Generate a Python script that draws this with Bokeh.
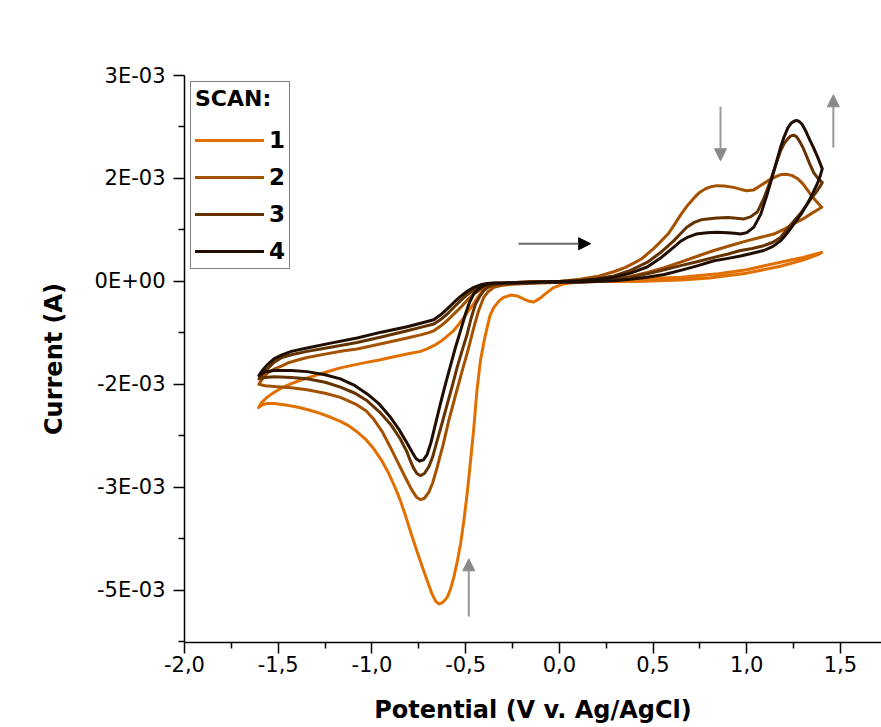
import numpy as np
from bokeh.plotting import figure
from bokeh.models import (Range1d, FixedTicker, CustomJSTickFormatter, Legend,
                          LegendItem, Arrow, NormalHead)
from bokeh.embed import file_html
from bokeh.resources import INLINE

# ---------------- data: (potential V, current mA) ----------------
scan_labels = ["1", "2", "3", "4"]
scan_colors = ["#E17000", "#A45200", "#653300", "#200E02"]

scan1 = [(0.00, 0.00), (0.30, 0.02), (0.65, 0.06), (0.85, 0.11), (1.00, 0.17), (1.18, 0.28),
         (1.30, 0.35), (1.40, 0.42),
         (1.38, 0.39), (1.30, 0.31), (1.18, 0.22), (1.00, 0.12), (0.80, 0.05), (0.65, 0.02),
         (0.40, 0.00), (0.22, 0.00), (0.10, -0.01), (0.02, -0.04), (-0.03, -0.09), (-0.065, -0.16),
         (-0.10, -0.24), (-0.136, -0.30), (-0.16, -0.29), (-0.189, -0.257), (-0.225, -0.212),
         (-0.26, -0.20), (-0.296, -0.232), (-0.32, -0.28), (-0.349, -0.378), (-0.37, -0.50),
         (-0.385, -0.669), (-0.40, -0.85), (-0.421, -1.155), (-0.44, -1.60), (-0.456, -2.126),
         (-0.475, -2.65), (-0.492, -3.096), (-0.51, -3.50), (-0.527, -3.824), (-0.545, -4.09),
         (-0.563, -4.31), (-0.58, -4.48), (-0.598, -4.60), (-0.615, -4.66), (-0.63, -4.69),
         (-0.643, -4.70), (-0.66, -4.66), (-0.68, -4.55), (-0.70, -4.40), (-0.73, -4.17),
         (-0.76, -3.93), (-0.79, -3.68), (-0.82, -3.42), (-0.85, -3.18), (-0.88, -2.98),
         (-0.91, -2.80), (-0.95, -2.60), (-0.99, -2.44), (-1.03, -2.31), (-1.08, -2.19),
         (-1.12, -2.11), (-1.168, -2.04), (-1.22, -1.98), (-1.28, -1.92), (-1.34, -1.87),
         (-1.40, -1.83), (-1.46, -1.80), (-1.52, -1.78), (-1.56, -1.78), (-1.585, -1.80),
         (-1.605, -1.84),
         (-1.59, -1.77), (-1.56, -1.69), (-1.523, -1.62), (-1.48, -1.55), (-1.434, -1.494),
         (-1.37, -1.43), (-1.30, -1.37), (-1.23, -1.31), (-1.168, -1.26), (-1.10, -1.22),
         (-1.03, -1.18), (-0.96, -1.145), (-0.901, -1.11), (-0.80, -1.05), (-0.74, -1.02),
         (-0.703, -0.98), (-0.665, -0.93), (-0.63, -0.87), (-0.60, -0.80), (-0.565, -0.72),
         (-0.535, -0.62), (-0.51, -0.53), (-0.485, -0.43), (-0.458, -0.33), (-0.44, -0.25),
         (-0.42, -0.18), (-0.40, -0.12), (-0.383, -0.09), (-0.35, -0.05), (-0.314, -0.03),
         (-0.20, -0.01), (-0.10, -0.005), (0.00, 0.00)]

scan2 = [(-0.30, -0.04), (-0.15, -0.01), (0.00, 0.00), (0.11, 0.03), (0.20, 0.07), (0.29, 0.14),
         (0.35, 0.20), (0.40, 0.27), (0.44, 0.33), (0.47, 0.40), (0.50, 0.47), (0.53, 0.55),
         (0.58, 0.69), (0.615, 0.83), (0.65, 0.98), (0.685, 1.11), (0.72, 1.22), (0.75, 1.30),
         (0.78, 1.35), (0.81, 1.38), (0.84, 1.395), (0.88, 1.39), (0.93, 1.37), (0.97, 1.34),
         (1.00, 1.32), (1.035, 1.33), (1.07, 1.39), (1.11, 1.46), (1.15, 1.52), (1.18, 1.555),
         (1.21, 1.56), (1.24, 1.545), (1.27, 1.50), (1.30, 1.42), (1.34, 1.27), (1.37, 1.17),
         (1.40, 1.08),
         (1.37, 1.03), (1.34, 0.98), (1.30, 0.91), (1.25, 0.84), (1.20, 0.76), (1.145, 0.69),
         (1.07, 0.64), (1.00, 0.59), (0.91, 0.52), (0.825, 0.45), (0.74, 0.37), (0.647, 0.28),
         (0.56, 0.20), (0.47, 0.13), (0.38, 0.07), (0.29, 0.035), (0.20, 0.01), (0.11, -0.01),
         (-0.10, -0.02), (-0.25, -0.04), (-0.30, -0.055), (-0.349, -0.087), (-0.38, -0.15),
         (-0.403, -0.232), (-0.43, -0.42), (-0.456, -0.669), (-0.485, -0.98), (-0.518, -1.30),
         (-0.555, -1.67), (-0.590, -2.03), (-0.62, -2.38), (-0.652, -2.71), (-0.675, -2.93),
         (-0.696, -3.07), (-0.72, -3.16), (-0.741, -3.18), (-0.76, -3.15), (-0.785, -3.05),
         (-0.81, -2.92), (-0.83, -2.81), (-0.865, -2.62), (-0.901, -2.42), (-0.945, -2.19),
         (-0.99, -2.01), (-1.03, -1.89), (-1.079, -1.80), (-1.12, -1.75), (-1.168, -1.69),
         (-1.25, -1.63), (-1.346, -1.58), (-1.43, -1.55), (-1.523, -1.53), (-1.57, -1.52),
         (-1.603, -1.50),
         (-1.59, -1.44), (-1.57, -1.37), (-1.55, -1.32), (-1.523, -1.28), (-1.48, -1.23),
         (-1.45, -1.19), (-1.40, -1.15), (-1.346, -1.11), (-1.25, -1.06), (-1.15, -1.01),
         (-1.079, -0.985), (-0.95, -0.91), (-0.812, -0.825), (-0.74, -0.78), (-0.70, -0.75),
         (-0.670, -0.72), (-0.635, -0.655), (-0.598, -0.57), (-0.56, -0.47), (-0.527, -0.38),
         (-0.49, -0.27), (-0.456, -0.18), (-0.42, -0.12), (-0.385, -0.087), (-0.35, -0.06),
         (-0.30, -0.04)]

scan3 = [(-0.30, -0.03), (-0.15, -0.01), (0.00, 0.00), (0.11, 0.01), (0.20, 0.04), (0.29, 0.08),
         (0.38, 0.16), (0.47, 0.28), (0.54, 0.42), (0.61, 0.59), (0.645, 0.69), (0.68, 0.79),
         (0.72, 0.86), (0.76, 0.90), (0.79, 0.91), (0.84, 0.925), (0.90, 0.93), (0.945, 0.92),
         (0.985, 0.91), (1.02, 0.94), (1.056, 1.01), (1.09, 1.20), (1.127, 1.47), (1.155, 1.70),
         (1.18, 1.90), (1.20, 2.01), (1.22, 2.08), (1.235, 2.12), (1.25, 2.13), (1.265, 2.11),
         (1.28, 2.05), (1.30, 1.95), (1.314, 1.86), (1.335, 1.72), (1.358, 1.58), (1.38, 1.50),
         (1.403, 1.44),
         (1.39, 1.38), (1.376, 1.32), (1.35, 1.23), (1.323, 1.13), (1.29, 1.00), (1.252, 0.88),
         (1.215, 0.76), (1.18, 0.64), (1.14, 0.57), (1.091, 0.52), (1.03, 0.48), (0.967, 0.45),
         (0.90, 0.40), (0.825, 0.35), (0.74, 0.29), (0.647, 0.23), (0.56, 0.17), (0.469, 0.11),
         (0.38, 0.06), (0.291, 0.02), (0.20, 0.00), (0.10, -0.01), (-0.10, -0.02), (-0.25, -0.03),
         (-0.30, -0.035), (-0.349, -0.048), (-0.38, -0.08), (-0.403, -0.135), (-0.425, -0.22),
         (-0.447, -0.33), (-0.47, -0.53), (-0.492, -0.77), (-0.52, -1.02), (-0.545, -1.25),
         (-0.57, -1.51), (-0.598, -1.79), (-0.625, -2.06), (-0.652, -2.32), (-0.675, -2.55),
         (-0.696, -2.70), (-0.72, -2.80), (-0.741, -2.83), (-0.76, -2.80), (-0.78, -2.71),
         (-0.80, -2.58), (-0.812, -2.49), (-0.85, -2.29), (-0.901, -2.08), (-0.96, -1.90),
         (-1.025, -1.74), (-1.09, -1.63), (-1.168, -1.54), (-1.25, -1.47), (-1.346, -1.42),
         (-1.43, -1.40), (-1.523, -1.39), (-1.57, -1.40), (-1.603, -1.42),
         (-1.585, -1.35), (-1.56, -1.28), (-1.523, -1.18), (-1.48, -1.11), (-1.43, -1.07),
         (-1.346, -1.02), (-1.22, -0.96), (-1.079, -0.89), (-0.95, -0.81), (-0.812, -0.72),
         (-0.74, -0.67), (-0.670, -0.62), (-0.635, -0.56), (-0.598, -0.475), (-0.56, -0.37),
         (-0.527, -0.28), (-0.49, -0.19), (-0.456, -0.126), (-0.42, -0.075), (-0.385, -0.048),
         (-0.34, -0.035), (-0.30, -0.03)]

scan4 = [(-0.30, -0.02), (-0.15, -0.01), (0.00, 0.00), (0.113, 0.01), (0.20, 0.03), (0.291, 0.06),
         (0.38, 0.12), (0.469, 0.21), (0.54, 0.34), (0.611, 0.50), (0.645, 0.58), (0.682, 0.64),
         (0.73, 0.69), (0.789, 0.71), (0.84, 0.715), (0.896, 0.71), (0.935, 0.70), (0.967, 0.69),
         (1.00, 0.71), (1.038, 0.79), (1.075, 0.98), (1.109, 1.27), (1.145, 1.61), (1.18, 1.95),
         (1.20, 2.11), (1.22, 2.24), (1.235, 2.30), (1.25, 2.33), (1.265, 2.345), (1.28, 2.33),
         (1.295, 2.29), (1.315, 2.19), (1.335, 2.07), (1.356, 1.95), (1.38, 1.80), (1.403, 1.64),
         (1.39, 1.52), (1.376, 1.42), (1.35, 1.27), (1.323, 1.13), (1.29, 0.98), (1.252, 0.84),
         (1.215, 0.70), (1.18, 0.59), (1.14, 0.51), (1.091, 0.45), (1.03, 0.41), (0.967, 0.37),
         (0.90, 0.335), (0.825, 0.30), (0.74, 0.23), (0.647, 0.16), (0.56, 0.10), (0.469, 0.06),
         (0.38, 0.03), (0.291, 0.01), (0.10, -0.01), (-0.10, -0.01), (-0.25, -0.02),
         (-0.349, -0.029), (-0.38, -0.04), (-0.403, -0.063), (-0.43, -0.11), (-0.456, -0.18),
         (-0.48, -0.31), (-0.501, -0.475), (-0.525, -0.70), (-0.554, -0.96), (-0.58, -1.22),
         (-0.607, -1.49), (-0.635, -1.79), (-0.661, -2.08), (-0.685, -2.35), (-0.705, -2.52),
         (-0.725, -2.60), (-0.746, -2.62), (-0.765, -2.58), (-0.785, -2.49), (-0.812, -2.36),
         (-0.855, -2.16), (-0.901, -1.98), (-0.96, -1.79), (-1.025, -1.64), (-1.09, -1.52),
         (-1.168, -1.42), (-1.25, -1.36), (-1.346, -1.315), (-1.43, -1.30), (-1.523, -1.30),
         (-1.57, -1.32), (-1.603, -1.37),
         (-1.585, -1.30), (-1.56, -1.22), (-1.523, -1.13), (-1.48, -1.07), (-1.43, -1.02),
         (-1.346, -0.97), (-1.22, -0.90), (-1.079, -0.825), (-0.95, -0.74), (-0.812, -0.66),
         (-0.74, -0.61), (-0.670, -0.56), (-0.635, -0.49), (-0.598, -0.40), (-0.56, -0.30),
         (-0.527, -0.22), (-0.49, -0.14), (-0.456, -0.087), (-0.42, -0.05), (-0.385, -0.029),
         (-0.34, -0.02), (-0.30, -0.02)]

scans = [scan1, scan2, scan3, scan4]

# y tick values (A) and their printed labels (as in the original, 0 decimals)
y_ticks = [-0.0045, -0.003, -0.0015, 0.0, 0.0015, 0.003]
y_tick_labels = ["-5E-03", "-3E-03", "-2E-03", "0E+00", "2E-03", "3E-03"]
x_ticks = [-2.0, -1.5, -1.0, -0.5, 0.0, 0.5, 1.0, 1.5]

# annotation arrows: (x_start, y_start mA, x_end, y_end mA, shaft colour, head colour)
arrows = [
    (-0.218, 0.549, 0.167, 0.549, "#6a6a6a", "#000000"),
    (0.860, 2.544, 0.860, 1.758, "#9a9a9a", "#8a8a8a"),
    (1.462, 1.951, 1.462, 2.719, "#9a9a9a", "#8a8a8a"),
    (-0.483, -4.883, -0.483, -4.043, "#9a9a9a", "#8a8a8a"),
]

FONT = "DejaVu Sans"

# ---------------- figure ----------------
p = figure(width=881, height=727, output_backend="svg", toolbar_location=None,
           x_range=Range1d(-2.0, 1.719), y_range=Range1d(-5.262e-3, 3.0e-3))
p.min_border_left = 184
p.min_border_right = 0
p.min_border_top = 75
p.min_border_bottom = 85
p.outline_line_color = None
p.xgrid.visible = False
p.ygrid.visible = False
p.background_fill_color = "white"
p.border_fill_color = "white"

renderers = []
for pts, c in zip(scans, scan_colors):
    v = np.array([a for a, _ in pts])
    i_amp = np.array([b for _, b in pts]) * 1e-3
    r = p.line(v, i_amp, line_color=c, line_width=3, line_join="round", line_cap="round")
    renderers.append(r)

for (x0, y0, x1, y1, sc, hc) in arrows:
    p.add_layout(Arrow(x_start=x0, y_start=y0 * 1e-3, x_end=x1, y_end=y1 * 1e-3,
                       line_color=sc, line_width=2,
                       end=NormalHead(size=12, fill_color=hc, line_color=hc, line_width=1)))

# axes
xa = p.xaxis[0]
xa.ticker = FixedTicker(ticks=x_ticks, minor_ticks=[t + 0.25 for t in x_ticks[:-1]])
xa.formatter = CustomJSTickFormatter(code="return tick.toFixed(1).replace('.', ',');")
xa.axis_label = "Potential (V v. Ag/AgCl)"
xa.axis_label_text_font = FONT
xa.axis_label_text_font_style = "bold"
xa.axis_label_text_font_size = "24px"
xa.axis_label_standoff = 21
xa.major_label_text_font = FONT
xa.major_label_text_font_size = "21px"
xa.major_label_standoff = 2

ya = p.yaxis[0]
minor_y = [(a + b) / 2 for a, b in zip(y_ticks[:-1], y_ticks[1:])] + [-0.00525]
ya.ticker = FixedTicker(ticks=y_ticks, minor_ticks=minor_y)
ya.major_label_overrides = {t: lab for t, lab in zip(y_ticks, y_tick_labels)}
ya.axis_label = "Current (A)"
ya.axis_label_text_font = FONT
ya.axis_label_text_font_style = "bold"
ya.axis_label_text_font_size = "24px"
ya.axis_label_standoff = 24
ya.major_label_text_font = FONT
ya.major_label_text_font_size = "21px"
ya.major_label_standoff = 8

for ax in (xa, ya):
    ax.axis_line_color = "black"
    ax.axis_line_width = 1.5
    ax.major_tick_line_color = "black"
    ax.major_tick_line_width = 1.5
    ax.minor_tick_line_color = "black"
    ax.minor_tick_line_width = 1.5
    ax.major_tick_in = 0
    ax.major_tick_out = 11
    ax.minor_tick_in = 0
    ax.minor_tick_out = 6
    ax.major_label_text_color = "black"
    ax.axis_label_text_color = "black"

legend = Legend(items=[LegendItem(label=lab, renderers=[r])
                       for lab, r in zip(scan_labels, renderers)],
                title="SCAN:", location="top_left")
legend.margin = 6
legend.padding = 4
legend.spacing = 11
legend.glyph_width = 69
legend.glyph_height = 26
legend.label_height = 26
legend.label_width = 14
legend.label_standoff = 5
legend.title_standoff = 16
legend.title_text_font = FONT
legend.title_text_font_style = "bold"
legend.title_text_font_size = "22px"
legend.title_text_color = "black"
legend.label_text_font = FONT
legend.label_text_font_style = "bold"
legend.label_text_font_size = "23px"
legend.label_text_color = "black"
legend.border_line_color = "black"
legend.border_line_width = 1
legend.background_fill_alpha = 1.0
p.add_layout(legend)

open("out.html", "w").write(file_html(p, INLINE))
